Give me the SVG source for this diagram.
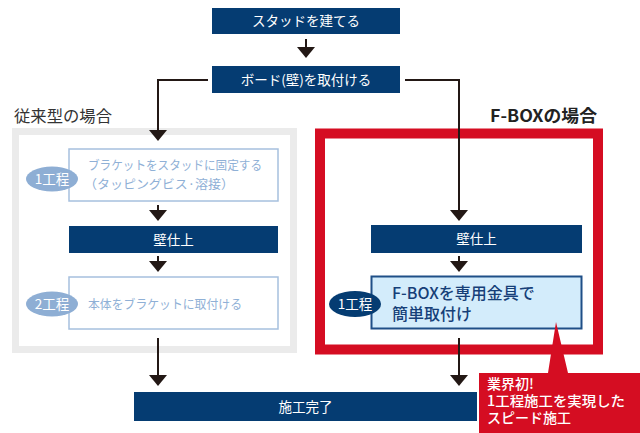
<svg xmlns="http://www.w3.org/2000/svg" width="640" height="433" viewBox="0 0 640 433">
<defs>
<style>
text{font-family:"Noto Sans CJK JP","Noto Sans",sans-serif}
.nav{fill:#053c72}
.wt{fill:#fff;font-size:13.5px;text-anchor:middle}
.ln{stroke:#231815;stroke-width:2;fill:none}
.lt{fill:#8fb0d6;font-size:12.5px}
.ah{fill:#231815}
</style>
<path id="ah" d="M-9,-11 L9,-11 L0,0 Z"/>
</defs>
<rect width="640" height="433" fill="#fff"/>

<g id="panel-left">
<rect x="15.5" y="131.5" width="278" height="218" fill="#fff" stroke="#ebebeb" stroke-width="7"/>
<text x="14" y="122" font-size="16" fill="#333" textLength="98" lengthAdjust="spacingAndGlyphs">従来型の場合</text>
</g>
<g id="panel-right">
<rect x="320" y="133.5" width="278" height="216" fill="#fff" stroke="#d50d22" stroke-width="10"/>
<text x="490" y="122" font-size="16.5" font-weight="bold" fill="#222" textLength="107" lengthAdjust="spacingAndGlyphs">F-BOXの場合</text>
</g>

<g id="connectors">
<line x1="306" y1="39" x2="306" y2="48" class="ln"/>
<polyline points="208,80 158,80 158,131" class="ln"/>
<polyline points="405,80 459,80 459,211" class="ln"/>
<line x1="158" y1="205" x2="158" y2="211" class="ln"/>
<line x1="158" y1="256" x2="158" y2="262" class="ln"/>
<line x1="459" y1="256" x2="459" y2="262" class="ln"/>
<line x1="158" y1="338" x2="158" y2="376" class="ln"/>
<line x1="459" y1="338" x2="459" y2="376" class="ln"/>
<g class="ah">
<use href="#ah" x="306" y="58"/>
<use href="#ah" x="158" y="141"/>
<use href="#ah" x="459" y="221"/>
<use href="#ah" x="158" y="221"/>
<use href="#ah" x="158" y="272"/>
<use href="#ah" x="459" y="272"/>
<use href="#ah" x="158" y="386"/>
<use href="#ah" x="459" y="386"/>
</g>
</g>

<g id="n-stud">
<rect x="212" y="8" width="188" height="26" class="nav"/>
<text x="306" y="26" class="wt">スタッドを建てる</text>
</g>
<g id="n-board">
<rect x="212" y="66" width="188" height="27" class="nav"/>
<text x="306" y="84.5" class="wt">ボード(壁)を取付ける</text>
</g>

<g id="n-left-step1">
<rect x="69" y="149" width="209" height="52" fill="#fff" stroke="#a6c0de" stroke-width="1.5"/>
<text x="88" y="170" class="lt" textLength="174" lengthAdjust="spacingAndGlyphs">ブラケットをスタッドに固定する</text>
<text x="84" y="189" class="lt" textLength="150" lengthAdjust="spacingAndGlyphs">（タッピングビス·溶接）</text>
<ellipse cx="52" cy="179" rx="26" ry="12.5" fill="#8eaed4"/>
<text x="52" y="184" class="wt">1工程</text>
</g>
<g id="n-left-wall">
<rect x="69" y="226" width="209" height="27" class="nav"/>
<text x="173.5" y="244.5" class="wt">壁仕上</text>
</g>
<g id="n-left-step2">
<rect x="69" y="277" width="209" height="52" fill="#fff" stroke="#a6c0de" stroke-width="1.5"/>
<text x="88" y="309" class="lt" textLength="154" lengthAdjust="spacingAndGlyphs">本体をブラケットに取付ける</text>
<ellipse cx="52" cy="304" rx="26" ry="12.5" fill="#8eaed4"/>
<text x="52" y="309" class="wt">2工程</text>
</g>

<g id="n-right-wall">
<rect x="371" y="225" width="211" height="28" class="nav"/>
<text x="476.5" y="244" class="wt">壁仕上</text>
</g>
<g id="n-right-step1">
<rect x="371.5" y="276.5" width="210" height="52" fill="#d3ecfb" stroke="#1f4f87" stroke-width="2"/>
<text x="392" y="299" font-size="16" font-weight="500" fill="#163f78">F-BOXを専用金具で</text>
<text x="392" y="320" font-size="16" font-weight="500" fill="#163f78">簡単取付け</text>
<ellipse cx="355" cy="304" rx="26" ry="13" fill="#053c72"/>
<text x="355" y="309" class="wt">1工程</text>
</g>

<g id="n-done">
<rect x="134" y="392" width="343" height="29" class="nav"/>
<text x="305.5" y="411.5" class="wt">施工完了</text>
</g>

<g id="callout">
<path d="M479,373 L548,373 L556,322 L568,373 L640,373 L640,433 L479,433 Z" fill="#d50d22"/>
<text x="487" y="389" font-size="14" font-weight="500" fill="#fff">業界初!</text>
<text x="487" y="406" font-size="14" font-weight="500" fill="#fff" textLength="138" lengthAdjust="spacingAndGlyphs">1工程施工を実現した</text>
<text x="487" y="423" font-size="14" font-weight="500" fill="#fff">スピード施工</text>
</g>
</svg>
